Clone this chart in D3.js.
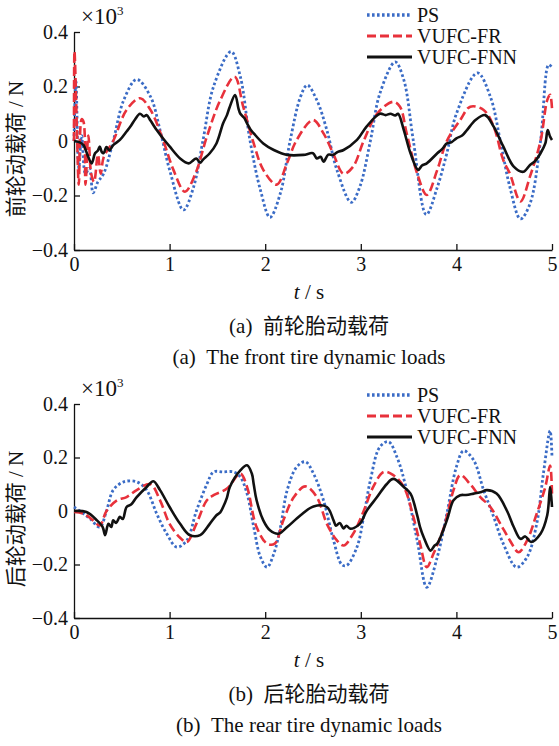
<!DOCTYPE html>
<html><head><meta charset="utf-8">
<script src="https://cdn.jsdelivr.net/npm/d3@7"></script>
<style>
html,body{margin:0;padding:0;background:#fff;}
text{font-family:"Liberation Serif","Noto Sans CJK SC",serif;fill:#111;}
</style></head><body>
<svg id="c" width="559" height="746"></svg>
<script>
// ---- data ----
const xTicks = [0, 1, 2, 3, 4, 5];
const yTicks = [-0.4, -0.2, 0, 0.2, 0.4];
const seriesNames = ["PS", "VUFC-FR", "VUFC-FNN"];

const frontPS = [[0,0],[0.02,0.22],[0.05,-0.1],[0.08,0.02],[0.12,-0.12],[0.16,-0.1],[0.2,-0.19],[0.25,-0.15],[0.31,-0.12],[0.41,0.0],[0.52,0.15],[0.656,0.226],[0.8,0.163],[0.9,0.04],[1.0,-0.106],[1.145,-0.253],[1.25,-0.17],[1.35,0.004],[1.46,0.2],[1.643,0.328],[1.74,0.236],[1.84,0.004],[1.95,-0.18],[2.05,-0.28],[2.16,-0.19],[2.26,0],[2.37,0.163],[2.44,0.205],[2.54,0.15],[2.645,0.04],[2.75,-0.106],[2.9,-0.225],[2.99,-0.168],[3.1,0],[3.2,0.175],[3.36,0.29],[3.45,0.224],[3.55,0],[3.685,-0.27],[3.8,-0.17],[3.9,-0.045],[4.0,0.1],[4.22,0.25],[4.355,0.163],[4.46,0],[4.56,-0.17],[4.67,-0.286],[4.77,-0.23],[4.88,0],[4.965,0.28],[5.0,0.27]];
const frontFR = [[0,0],[0.005,0.33],[0.03,0.05],[0.05,-0.16],[0.08,0.08],[0.1,0.07],[0.12,-0.16],[0.15,0.02],[0.18,-0.12],[0.21,-0.15],[0.25,-0.05],[0.28,-0.12],[0.31,-0.06],[0.41,0],[0.55,0.114],[0.69,0.157],[0.8,0.114],[0.935,0],[1.04,-0.106],[1.16,-0.186],[1.27,-0.12],[1.39,0.016],[1.53,0.15],[1.68,0.236],[1.77,0.126],[1.88,-0.009],[1.98,-0.106],[2.12,-0.16],[2.23,-0.08],[2.33,0.004],[2.5,0.077],[2.61,0.028],[2.71,-0.045],[2.82,-0.12],[2.92,-0.094],[3.03,0],[3.17,0.1],[3.34,0.144],[3.41,0.126],[3.48,0.028],[3.59,-0.12],[3.69,-0.198],[3.8,-0.106],[3.9,0],[4.04,0.077],[4.145,0.126],[4.285,0.114],[4.39,0.053],[4.49,-0.07],[4.56,-0.12],[4.67,-0.222],[4.77,-0.13],[4.88,0],[4.95,0.15],[4.98,0.17],[5.0,0.12]];
const frontFNN = [[0,0],[0.06,-0.005],[0.1,-0.015],[0.14,-0.05],[0.185,-0.082],[0.22,-0.045],[0.25,-0.035],[0.27,-0.02],[0.29,-0.04],[0.31,-0.045],[0.34,-0.022],[0.37,-0.035],[0.41,-0.015],[0.48,0.004],[0.55,0.035],[0.59,0.053],[0.64,0.08],[0.69,0.1],[0.73,0.09],[0.76,0.095],[0.8,0.075],[0.865,0.04],[0.93,0.01],[1.0,-0.02],[1.11,-0.064],[1.2,-0.082],[1.25,-0.07],[1.28,-0.064],[1.32,-0.08],[1.35,-0.068],[1.42,-0.045],[1.49,-0.009],[1.56,0.065],[1.6,0.095],[1.63,0.126],[1.685,0.169],[1.72,0.12],[1.74,0.1],[1.78,0.085],[1.81,0.065],[1.85,0.04],[1.88,0.028],[1.98,-0.009],[2.09,-0.033],[2.23,-0.051],[2.4,-0.051],[2.5,-0.045],[2.54,-0.064],[2.58,-0.058],[2.61,-0.076],[2.66,-0.05],[2.71,-0.051],[2.76,-0.04],[2.82,-0.033],[2.96,0.004],[3.06,0.053],[3.2,0.1],[3.26,0.095],[3.31,0.1],[3.36,0.094],[3.39,0.1],[3.45,0.04],[3.52,-0.045],[3.6,-0.106],[3.64,-0.09],[3.69,-0.082],[3.8,-0.045],[3.85,-0.03],[3.9,-0.009],[3.95,-0.004],[4.0,0.01],[4.06,0.02],[4.11,0.04],[4.2,0.077],[4.3,0.095],[4.39,0.053],[4.49,-0.02],[4.6,-0.094],[4.7,-0.113],[4.77,-0.088],[4.82,-0.075],[4.88,-0.045],[4.93,-0.009],[4.955,0.04],[4.98,0.016],[5.0,0.004]];

const rearPS = [[0,0.015],[0.1,-0.01],[0.17,-0.03],[0.27,-0.06],[0.34,0.0],[0.41,0.078],[0.52,0.109],[0.656,0.109],[0.76,0.078],[0.865,-0.01],[0.97,-0.085],[1.075,-0.135],[1.18,-0.11],[1.28,0.0],[1.39,0.1],[1.46,0.146],[1.56,0.146],[1.67,0.146],[1.74,0.127],[1.81,0.065],[1.88,-0.06],[1.95,-0.172],[2.02,-0.21],[2.09,-0.16],[2.16,-0.06],[2.23,0.078],[2.33,0.165],[2.42,0.184],[2.505,0.14],[2.61,0.04],[2.715,-0.11],[2.8,-0.2],[2.85,-0.204],[2.96,-0.135],[3.03,-0.022],[3.1,0.115],[3.2,0.24],[3.29,0.259],[3.38,0.2],[3.48,0.078],[3.59,-0.11],[3.69,-0.285],[3.8,-0.172],[3.9,-0.01],[4.0,0.165],[4.075,0.225],[4.18,0.19],[4.285,0.078],[4.39,-0.022],[4.49,-0.122],[4.63,-0.21],[4.74,-0.172],[4.84,-0.048],[4.91,0.14],[4.98,0.3],[5.0,0.2]];
const rearFR = [[0,-0.004],[0.1,-0.01],[0.2,-0.035],[0.27,-0.054],[0.34,0.0],[0.45,0.04],[0.55,0.052],[0.656,0.078],[0.8,0.1],[0.9,0.04],[1.0,-0.048],[1.11,-0.1],[1.18,-0.116],[1.28,-0.048],[1.39,0.04],[1.46,0.059],[1.6,0.084],[1.74,0.14],[1.81,0.09],[1.91,-0.06],[2.02,-0.122],[2.1,-0.122],[2.19,-0.035],[2.3,0.052],[2.42,0.092],[2.54,0.052],[2.645,-0.048],[2.75,-0.11],[2.82,-0.129],[2.92,-0.085],[3.03,0.0],[3.13,0.09],[3.24,0.146],[3.34,0.134],[3.45,0.09],[3.55,-0.022],[3.62,-0.122],[3.69,-0.21],[3.76,-0.16],[3.87,-0.06],[3.97,0.078],[4.04,0.134],[4.145,0.1],[4.25,0.052],[4.355,0.015],[4.46,-0.048],[4.56,-0.11],[4.65,-0.154],[4.74,-0.11],[4.84,-0.01],[4.93,0.09],[4.98,0.17],[5.0,0.065]];
const rearFNN = [[0,0.0],[0.13,-0.004],[0.24,-0.035],[0.3,-0.06],[0.325,-0.09],[0.36,-0.048],[0.39,-0.06],[0.41,-0.035],[0.44,-0.045],[0.48,-0.022],[0.51,-0.03],[0.55,0.015],[0.6,0.025],[0.656,0.052],[0.76,0.09],[0.83,0.111],[0.9,0.078],[1.0,0.015],[1.11,-0.048],[1.21,-0.09],[1.32,-0.09],[1.42,-0.048],[1.49,-0.016],[1.53,-0.005],[1.56,0.015],[1.6,0.05],[1.63,0.09],[1.74,0.152],[1.81,0.171],[1.86,0.14],[1.88,0.1],[1.91,0.04],[1.98,-0.035],[2.05,-0.072],[2.14,-0.085],[2.23,-0.06],[2.37,-0.016],[2.505,0.017],[2.645,0.015],[2.715,-0.035],[2.74,-0.055],[2.78,-0.045],[2.82,-0.065],[2.85,-0.055],[2.89,-0.066],[2.99,-0.048],[3.06,0.0],[3.17,0.052],[3.27,0.1],[3.34,0.12],[3.45,0.09],[3.52,0.065],[3.59,-0.016],[3.62,-0.06],[3.66,-0.1],[3.73,-0.148],[3.77,-0.13],[3.8,-0.122],[3.9,-0.035],[3.97,0.04],[4.04,0.059],[4.1,0.06],[4.18,0.065],[4.25,0.07],[4.32,0.078],[4.42,0.065],[4.53,0.0],[4.6,-0.06],[4.67,-0.104],[4.72,-0.095],[4.78,-0.116],[4.88,-0.085],[4.95,-0.016],[4.98,0.09],[4.995,0.04],[5.0,0.015]];

// ---- drawing ----
const svg = d3.select("#c");
const styles = [
  {color:"#3b6cc6", dash:"2.6,2.4", width:2.8},
  {color:"#e8313b", dash:"9,4", width:2.6},
  {color:"#111111", dash:null, width:2.6}
];
const serif = '"Liberation Serif","Times New Roman",serif';

function panel(cfg){
  const x = d3.scaleLinear().domain([0,5]).range([74,552]);
  const y = d3.scaleLinear().domain([-0.4,0.4]).range([cfg.y0, cfg.y1]);
  const g = svg.append("g");
  const ax = g.append("g").attr("transform",`translate(0,${cfg.y0})`)
    .call(d3.axisBottom(x).tickValues(xTicks).tickFormat(d3.format("d")).tickSize(-6).tickSizeOuter(0).tickPadding(7));
  const ay = g.append("g").attr("transform","translate(74,0)")
    .call(d3.axisLeft(y).tickValues(yTicks).tickFormat(d=>d===0?"0":d3.format(".1f")(d)).tickSize(-6).tickSizeOuter(0).tickPadding(6));
  [ax,ay].forEach(a=>{
    a.attr("font-family",serif).attr("font-size",20);
    a.selectAll("path,line").attr("stroke","#111").attr("stroke-width",1.3);
    a.selectAll("text").attr("font-size",20).attr("fill","#111")
      .style("font-family",serif);
  });
  const line = d3.line().x(d=>x(d[0])).y(d=>y(d[1])).curve(d3.curveCatmullRom.alpha(0.5));
  cfg.data.forEach((s,i)=>{
    const st = styles[i];
    g.append("path").datum(s).attr("d",line).attr("fill","none")
      .attr("stroke",st.color).attr("stroke-width",st.width)
      .attr("stroke-dasharray",st.dash).attr("stroke-linejoin","round");
  });
  // x10^3
  const m = g.append("text").attr("x",81).attr("y",cfg.y1-8).attr("font-size",23).style("font-family",serif);
  m.append("tspan").text("×10");
  m.append("tspan").attr("font-size",13).attr("dy",-9).text("3");
  // legend
  seriesNames.forEach((n,i)=>{
    const ly = cfg.legY + i*21;
    const st = styles[i];
    g.append("line").attr("x1",367).attr("x2",412).attr("y1",ly).attr("y2",ly)
      .attr("stroke",st.color).attr("stroke-width",st.width+0.6).attr("stroke-dasharray",st.dash);
    g.append("text").attr("x",417).attr("y",ly).attr("dy","0.35em").attr("font-size",20).style("font-family",serif).text(n);
  });
  // y label
  g.append("text").attr("transform",`translate(16,${cfg.ylabY}) rotate(-90)`)
    .attr("text-anchor","middle").attr("dominant-baseline","central").attr("font-size",21)
    .text(cfg.ylab);
  // x label
  const t = g.append("text").attr("x",309).attr("y",cfg.y0+49).attr("text-anchor","middle").attr("font-size",21).style("font-family",serif);
  t.append("tspan").attr("font-style","italic").text("t");
  t.append("tspan").text(" / s");
  g.append("text").attr("x",309).attr("y",cfg.y0+83).attr("text-anchor","middle").attr("font-size",21).text(cfg.cap1);
  g.append("text").attr("x",309).attr("y",cfg.y0+114).attr("text-anchor","middle").attr("font-size",21).text(cfg.cap2);
}

panel({y0:250, y1:32, data:[frontPS,frontFR,frontFNN], legY:15, ylab:"前轮动载荷 / N", ylabY:149,
  cap1:"(a)\u2002前轮胎动载荷", cap2:"(a)\u2002The front tire dynamic loads"});
panel({y0:618, y1:404, data:[rearPS,rearFR,rearFNN], legY:395, ylab:"后轮动载荷 / N", ylabY:519,
  cap1:"(b)\u2002后轮胎动载荷", cap2:"(b)\u2002The rear tire dynamic loads"});
</script></body></html>
